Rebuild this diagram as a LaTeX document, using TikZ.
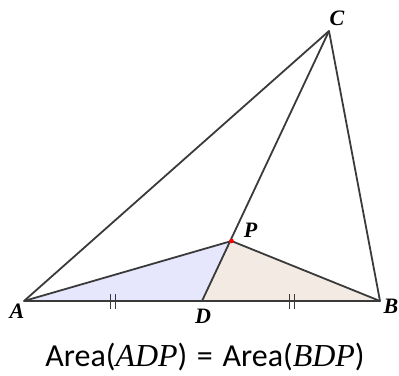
\documentclass[tikz,border=0pt]{standalone}
\usepackage{fontspec}
\newfontfamily\capfont{Carlito}
\newfontfamily\mathlike{Liberation Serif}
\definecolor{edgegray}{HTML}{3A3A3A}
\definecolor{leftfill}{HTML}{E6E6FC}
\definecolor{rightfill}{HTML}{F3EAE4}
\tikzset{
  edge/.style={draw=edgegray, line width=1.8pt, line join=round},
  pointlabel/.style={font=\fontsize{22}{22}\selectfont\mathlike\bfseries\itshape,
    inner sep=0pt, anchor=base},
  tick/.style={draw=edgegray, line width=1.4pt}
}
\newcommand{\vname}[1]{{\mathlike\itshape #1}}
\begin{document}
\begin{tikzpicture}[x=1pt, y=-1pt]
  \useasboundingbox (0,0) rectangle (399,375);
  % points
  \coordinate (A) at (24,301);
  \coordinate (B) at (380,301);
  \coordinate (C) at (329,31);
  \coordinate (D) at (202,301);
  \coordinate (P) at (231.5,241);
  % shaded triangles
  \fill[leftfill] (A) -- (D) -- (P) -- cycle;
  \fill[rightfill] (D) -- (B) -- (P) -- cycle;
  % sides
  \draw[edge] (A) -- (B) -- (C) -- cycle;
  \draw[edge] (C) -- (D);
  \draw[edge] (A) -- (P) -- (B);
  % equal marks
  \foreach \x in {110.5,115.5,289.5,294.5}
    \draw[tick] (\x,294) -- (\x,309);
  % point P
  \fill[red] (P) circle (2.3pt);
  % labels
  \node[pointlabel] (lA) at ([shift={(-7,17)}]A) {A};
  \node[pointlabel] (lB) at ([shift={(11,12)}]B) {B};
  \node[pointlabel] (lC) at ([shift={(8,-6)}]C) {C};
  \node[pointlabel] (lD) at ([shift={(1,22)}]D) {D};
  \node[pointlabel] (lP) at ([shift={(19,-4)}]P) {P};
  % caption
  \node[font=\fontsize{32}{32}\selectfont\capfont, anchor=base] (cap) at (205,366)
    {Area(\vname{ADP})\hspace{0.3em}=\hspace{0.3em}Area(\vname{BDP})};
\end{tikzpicture}
\end{document}
